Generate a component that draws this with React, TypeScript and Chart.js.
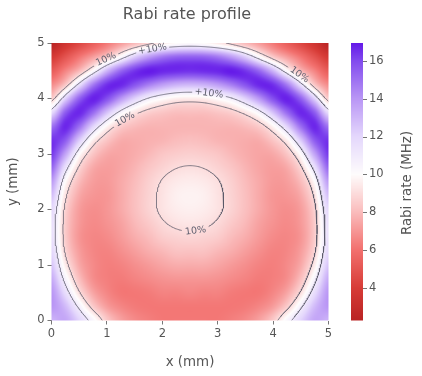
import React, { useEffect, useRef } from "react";
import { Chart, registerables } from "chart.js";

Chart.register(...registerables);

// ---------------- data ----------------
const gridStepMm = 0.25; // grid spacing, x and y both run 0 -> 5 mm
const xTickValues = [0, 1, 2, 3, 4, 5];
const yTickValues = [0, 1, 2, 3, 4, 5];
const colorbarTickValues = [4, 6, 8, 10, 12, 14, 16];
const rateRangeMHz = [2.26, 16.95];
const contourLevelsMHz = [9, 11]; // -10% / +10% of 10 MHz

// Rabi rate (MHz); each row is one y (mm), columns are x = 0.00 ... 5.00 mm
const rateY000 = [13.1, 13.5, 12.1, 10.4, 8.4, 7.3, 6.7, 6.4, 6.2, 6.2, 6.2, 6.2, 6.2, 6.4, 6.7, 7.3, 8.4, 10.4, 12.1, 13.5, 13.1];
const rateY025 = [14.0, 12.9, 10.7, 8.5, 7.2, 6.6, 6.3, 6.2, 6.2, 6.2, 6.2, 6.2, 6.2, 6.2, 6.3, 6.6, 7.2, 8.5, 10.7, 12.9, 14.0];
const rateY050 = [14.0, 11.7, 9.1, 7.4, 6.6, 6.2, 6.2, 6.3, 6.5, 6.5, 6.6, 6.5, 6.5, 6.3, 6.2, 6.2, 6.6, 7.4, 9.1, 11.7, 14.0];
const rateY075 = [13.4, 10.5, 8.1, 6.8, 6.4, 6.3, 6.5, 6.7, 6.9, 7.0, 7.0, 7.0, 6.9, 6.7, 6.5, 6.3, 6.4, 6.8, 8.1, 10.5, 13.4];
const rateY100 = [12.6, 9.5, 7.5, 6.7, 6.4, 6.5, 6.8, 7.1, 7.4, 7.6, 7.6, 7.6, 7.4, 7.1, 6.8, 6.5, 6.4, 6.7, 7.5, 9.5, 12.6];
const rateY125 = [12.0, 8.8, 7.2, 6.6, 6.5, 6.8, 7.2, 7.6, 7.9, 8.2, 8.2, 8.2, 7.9, 7.6, 7.2, 6.8, 6.5, 6.6, 7.2, 8.8, 12.0];
const rateY150 = [11.6, 8.5, 7.0, 6.6, 6.7, 7.1, 7.6, 8.0, 8.5, 8.7, 8.8, 8.7, 8.5, 8.0, 7.6, 7.1, 6.7, 6.6, 7.0, 8.5, 11.6];
const rateY175 = [11.6, 8.5, 7.1, 6.7, 6.9, 7.3, 7.9, 8.4, 8.9, 9.2, 9.3, 9.2, 8.9, 8.4, 7.9, 7.3, 6.9, 6.7, 7.1, 8.5, 11.6];
const rateY200 = [12.0, 8.7, 7.2, 6.8, 7.0, 7.5, 8.1, 8.7, 9.2, 9.5, 9.6, 9.5, 9.2, 8.7, 8.1, 7.5, 7.0, 6.8, 7.2, 8.7, 12.0];
const rateY225 = [12.8, 9.2, 7.5, 7.0, 7.0, 7.5, 8.1, 8.7, 9.2, 9.6, 9.7, 9.6, 9.2, 8.7, 8.1, 7.5, 7.0, 7.0, 7.5, 9.2, 12.8];
const rateY250 = [13.9, 10.0, 8.0, 7.2, 7.1, 7.5, 8.0, 8.6, 9.1, 9.4, 9.5, 9.4, 9.1, 8.6, 8.0, 7.5, 7.1, 7.2, 8.0, 10.0, 13.9];
const rateY275 = [15.3, 11.5, 8.8, 7.5, 7.2, 7.4, 7.8, 8.3, 8.7, 9.0, 9.1, 9.0, 8.7, 8.3, 7.8, 7.4, 7.2, 7.5, 8.8, 11.5, 15.3];
const rateY300 = [16.4, 13.6, 10.1, 8.3, 7.5, 7.4, 7.6, 7.9, 8.3, 8.5, 8.6, 8.5, 8.3, 7.9, 7.6, 7.4, 7.5, 8.3, 10.1, 13.6, 16.4];
const rateY325 = [16.5, 15.6, 12.4, 9.6, 8.3, 7.6, 7.6, 7.7, 7.8, 8.0, 8.1, 8.0, 7.8, 7.7, 7.6, 7.6, 8.3, 9.6, 12.4, 15.6, 16.5];
const rateY350 = [14.9, 16.7, 15.1, 12.1, 9.8, 8.5, 8.0, 7.8, 7.8, 7.8, 7.8, 7.8, 7.8, 7.8, 8.0, 8.5, 9.8, 12.1, 15.1, 16.7, 14.9];
const rateY375 = [11.7, 15.5, 16.7, 15.2, 12.7, 10.5, 9.3, 8.6, 8.3, 8.1, 8.1, 8.1, 8.3, 8.6, 9.3, 10.5, 12.7, 15.2, 16.7, 15.5, 11.7];
const rateY400 = [8.4, 12.1, 15.4, 16.8, 15.9, 14.0, 12.2, 10.8, 10.1, 9.6, 9.5, 9.6, 10.1, 10.8, 12.2, 14.0, 15.9, 16.8, 15.4, 12.1, 8.4];
const rateY425 = [6.7, 8.3, 11.5, 14.7, 16.5, 16.7, 15.8, 14.7, 13.8, 13.2, 13.0, 13.2, 13.8, 14.7, 15.8, 16.7, 16.5, 14.7, 11.5, 8.3, 6.7];
const rateY450 = [5.2, 6.5, 7.9, 10.1, 13.0, 15.2, 16.4, 16.9, 16.7, 16.6, 16.5, 16.6, 16.7, 16.9, 16.4, 15.2, 13.0, 10.1, 7.9, 6.5, 5.2];
const rateY475 = [3.8, 4.9, 6.1, 7.2, 8.4, 10.2, 12.3, 13.8, 14.8, 15.3, 15.4, 15.3, 14.8, 13.8, 12.3, 10.2, 8.4, 7.2, 6.1, 4.9, 3.8];
const rateY500 = [2.3, 3.5, 4.4, 5.3, 6.2, 7.1, 7.9, 8.7, 9.4, 9.9, 10.1, 9.9, 9.4, 8.7, 7.9, 7.1, 6.2, 5.3, 4.4, 3.5, 2.3];

const rateRows = [
  rateY000, rateY025, rateY050, rateY075, rateY100, rateY125, rateY150,
  rateY175, rateY200, rateY225, rateY250, rateY275, rateY300, rateY325,
  rateY350, rateY375, rateY400, rateY425, rateY450, rateY475, rateY500,
];

// contour labels (level, approximate position in mm, text)
const labelLevels = [11, 9, 9, 11, 9, 9];
const labelXmm = [1.82, 1.0, 4.45, 2.85, 1.3, 2.62];
const labelYmm = [4.91, 4.69, 4.4, 4.1, 3.68, 1.5];
const labelTexts = ["+10%", "10%", "10%", "+10%", "10%", "10%"];

// colour map stops (value -> colour)
const cmapStops = [2.26, 4, 6, 8, 10, 12, 14, 16, 16.95];
const cmapColors = ["#b92323", "#d73c37", "#f2706e", "#fabcbc", "#fefcfc", "#e4d7fc", "#b996f5", "#824bee", "#6419e8"];

// ---------------- helpers ----------------
const FONT = "'DejaVu Sans', 'Liberation Sans', sans-serif";
const TEXT_COLOR = "#555555";

function hexToRgb(h: string) {
  return [parseInt(h.slice(1, 3), 16), parseInt(h.slice(3, 5), 16), parseInt(h.slice(5, 7), 16)];
}
const cmapRgb = cmapColors.map(hexToRgb);

function colorFor(v: number): number[] {
  if (v <= cmapStops[0]) return cmapRgb[0];
  const n = cmapStops.length;
  if (v >= cmapStops[n - 1]) return cmapRgb[n - 1];
  for (let i = 0; i < n - 1; i++) {
    if (v <= cmapStops[i + 1]) {
      const t = (v - cmapStops[i]) / (cmapStops[i + 1] - cmapStops[i]);
      const a = cmapRgb[i], b = cmapRgb[i + 1];
      return [a[0] + (b[0] - a[0]) * t, a[1] + (b[1] - a[1]) * t, a[2] + (b[2] - a[2]) * t];
    }
  }
  return cmapRgb[n - 1];
}

function cubic(p0: number, p1: number, p2: number, p3: number, t: number) {
  return p1 + 0.5 * t * (p2 - p0 + t * (2 * p0 - 5 * p1 + 4 * p2 - p3 + t * (3 * (p1 - p2) + p3 - p0)));
}

function sampleRate(x: number, y: number) {
  const nx = rateRows[0].length, ny = rateRows.length;
  const gx = Math.min(Math.max(x / gridStepMm, 0), nx - 1);
  const gy = Math.min(Math.max(y / gridStepMm, 0), ny - 1);
  const ix = Math.min(Math.floor(gx), nx - 2);
  const iy = Math.min(Math.floor(gy), ny - 2);
  const tx = gx - ix, ty = gy - iy;
  const ci = (i: number) => Math.min(Math.max(i, 0), nx - 1);
  const cj = (j: number) => Math.min(Math.max(j, 0), ny - 1);
  const r: number[] = [];
  for (let k = -1; k <= 2; k++) {
    const row = rateRows[cj(iy + k)];
    r.push(cubic(row[ci(ix - 1)], row[ci(ix)], row[ci(ix + 1)], row[ci(ix + 2)], tx));
  }
  return cubic(r[0], r[1], r[2], r[3], ty);
}

type P = { x: number; y: number };

function smoothLine(line: P[], closed: boolean, half: number, passes: number): P[] {
  let pts = closed ? line.slice(0, line.length - 1) : line.slice();
  const n = pts.length;
  if (n < 5) return line;
  for (let pass = 0; pass < passes; pass++) {
    const out: P[] = [];
    for (let i = 0; i < n; i++) {
      if (!closed && (i === 0 || i === n - 1)) {
        out.push(pts[i]);
        continue;
      }
      let sx = 0, sy = 0, c = 0;
      for (let k = -half; k <= half; k++) {
        let j = i + k;
        if (closed) j = ((j % n) + n) % n;
        else if (j < 0 || j >= n) continue;
        sx += pts[j].x;
        sy += pts[j].y;
        c++;
      }
      out.push({ x: sx / c, y: sy / c });
    }
    pts = out;
  }
  if (closed) pts.push(pts[0]);
  return pts;
}

function contourLines(level: number, step: number): P[][] {
  const n = Math.round(5 / step) + 1;
  const vals = new Float64Array(n * n);
  for (let j = 0; j < n; j++) for (let i = 0; i < n; i++) vals[j * n + i] = sampleRate(i * step, j * step);
  const pts = new Map<string, P>();
  const adj = new Map<string, string[]>();
  const edgePoint = (key: string, i1: number, j1: number, i2: number, j2: number) => {
    if (!pts.has(key)) {
      const a = vals[j1 * n + i1], b = vals[j2 * n + i2];
      const t = (level - a) / (b - a);
      pts.set(key, { x: (i1 + (i2 - i1) * t) * step, y: (j1 + (j2 - j1) * t) * step });
    }
    return key;
  };
  const link = (a: string, b: string) => {
    if (!adj.has(a)) adj.set(a, []);
    if (!adj.has(b)) adj.set(b, []);
    adj.get(a)!.push(b);
    adj.get(b)!.push(a);
  };
  for (let j = 0; j < n - 1; j++) {
    for (let i = 0; i < n - 1; i++) {
      const a = vals[j * n + i] >= level;
      const b = vals[j * n + i + 1] >= level;
      const c = vals[(j + 1) * n + i + 1] >= level;
      const d = vals[(j + 1) * n + i] >= level;
      const E: (string | null)[] = [
        a !== b ? edgePoint(`h${i},${j}`, i, j, i + 1, j) : null,
        b !== c ? edgePoint(`v${i + 1},${j}`, i + 1, j, i + 1, j + 1) : null,
        c !== d ? edgePoint(`h${i},${j + 1}`, i + 1, j + 1, i, j + 1) : null,
        d !== a ? edgePoint(`v${i},${j}`, i, j + 1, i, j) : null,
      ];
      const present = E.filter((e) => e !== null) as string[];
      if (present.length === 2) link(present[0], present[1]);
      else if (present.length === 4) {
        const center =
          (vals[j * n + i] + vals[j * n + i + 1] + vals[(j + 1) * n + i + 1] + vals[(j + 1) * n + i]) / 4 >= level;
        if (center === a) {
          link(E[0]!, E[1]!);
          link(E[2]!, E[3]!);
        } else {
          link(E[3]!, E[0]!);
          link(E[1]!, E[2]!);
        }
      }
    }
  }
  const visited = new Set<string>();
  const walk = (start: string) => {
    const line = [start];
    visited.add(start);
    let cur = start;
    for (;;) {
      const nb = (adj.get(cur) || []).find((k) => !visited.has(k));
      if (!nb) break;
      visited.add(nb);
      line.push(nb);
      cur = nb;
    }
    return line;
  };
  const lines: { keys: string[]; closed: boolean }[] = [];
  adj.forEach((nbs, k) => {
    if (nbs.length === 1 && !visited.has(k)) lines.push({ keys: walk(k), closed: false });
  });
  adj.forEach((_nbs, k) => {
    if (!visited.has(k)) {
      const l = walk(k);
      l.push(k);
      lines.push({ keys: l, closed: true });
    }
  });
  return lines.map((l) => smoothLine(l.keys.map((k) => pts.get(k)!), l.closed, 7, 3));
}

type Label = { x: number; y: number; dx: number; dy: number; text: string; level: number; r: number };

function buildContours() {
  const levelLines = contourLevelsMHz.map((lv) => contourLines(lv, 0.02));
  const labels: Label[] = [];
  labelLevels.forEach((lv, li) => {
    const lines = levelLines[contourLevelsMHz.indexOf(lv)];
    let best = { d: Infinity, line: -1, idx: -1 };
    lines.forEach((line, k) =>
      line.forEach((p, idx) => {
        const d = (p.x - labelXmm[li]) ** 2 + (p.y - labelYmm[li]) ** 2;
        if (d < best.d) best = { d, line: k, idx };
      })
    );
    const line = lines[best.line];
    const p = line[best.idx];
    const p1 = line[Math.max(0, best.idx - 5)];
    const p2 = line[Math.min(line.length - 1, best.idx + 5)];
    const text = labelTexts[li];
    labels.push({ x: p.x, y: p.y, dx: p2.x - p1.x, dy: p2.y - p1.y, text, level: lv, r: text.length > 3 ? 0.3 : 0.24 });
  });
  const datasets = contourLevelsMHz.map((lv, k) => {
    const data: P[] = [];
    const myLabels = labels.filter((l) => l.level === lv);
    levelLines[k].forEach((line) => {
      line.forEach((p) => {
        const hidden = myLabels.some((l) => (p.x - l.x) ** 2 + (p.y - l.y) ** 2 < l.r * l.r);
        data.push(hidden ? { x: NaN, y: NaN } : p);
      });
      data.push({ x: NaN, y: NaN });
    });
    return data;
  });
  return { datasets, labels };
}

// ---------------- component ----------------
export default function App() {
  const canvasRef = useRef<HTMLCanvasElement | null>(null);

  useEffect(() => {
    const canvas = canvasRef.current;
    if (!canvas) return;
    const { datasets, labels } = buildContours();

    const fieldPlugin = {
      id: "rabiField",
      beforeDatasetsDraw(chart: any) {
        const { ctx, chartArea } = chart;
        const xs = chart.scales.x, ys = chart.scales.y;
        const x0 = Math.floor(chartArea.left), y0 = Math.floor(chartArea.top);
        const x1 = Math.ceil(chartArea.right), y1 = Math.ceil(chartArea.bottom);
        const w = x1 - x0, h = y1 - y0;
        const off = document.createElement("canvas");
        off.width = w;
        off.height = h;
        const octx = off.getContext("2d")!;
        const img = octx.createImageData(w, h);
        for (let py = 0; py < h; py++) {
          const vy = ys.getValueForPixel(y0 + py + 0.5);
          for (let px = 0; px < w; px++) {
            const vx = xs.getValueForPixel(x0 + px + 0.5);
            const c = colorFor(sampleRate(vx, vy));
            const o = (py * w + px) * 4;
            img.data[o] = c[0];
            img.data[o + 1] = c[1];
            img.data[o + 2] = c[2];
            img.data[o + 3] = 255;
          }
        }
        octx.putImageData(img, 0, 0);
        ctx.save();
        ctx.beginPath();
        ctx.rect(chartArea.left, chartArea.top, chartArea.right - chartArea.left, chartArea.bottom - chartArea.top);
        ctx.clip();
        ctx.drawImage(off, x0, y0);
        ctx.restore();
      },
      afterDatasetsDraw(chart: any) {
        const { ctx } = chart;
        const xs = chart.scales.x, ys = chart.scales.y;
        ctx.save();
        ctx.font = `9.5px ${FONT}`;
        ctx.fillStyle = "#606070";
        ctx.textAlign = "center";
        ctx.textBaseline = "middle";
        labels.forEach((l) => {
          const px = xs.getPixelForValue(l.x), py = ys.getPixelForValue(l.y);
          const ddx = xs.getPixelForValue(l.x + l.dx) - px;
          const ddy = ys.getPixelForValue(l.y + l.dy) - py;
          let ang = Math.atan2(ddy, ddx);
          if (ang > Math.PI / 2) ang -= Math.PI;
          if (ang < -Math.PI / 2) ang += Math.PI;
          ctx.save();
          ctx.translate(px, py);
          ctx.rotate(ang);
          ctx.fillText(l.text, 0, 0);
          ctx.restore();
        });
        ctx.restore();
      },
      afterDraw(chart: any) {
        const { ctx } = chart;
        const cb = chart.scales.cb;
        ctx.save();
        for (let py = Math.floor(cb.top); py < Math.ceil(cb.bottom); py++) {
          const c = colorFor(cb.getValueForPixel(py + 0.5));
          ctx.fillStyle = `rgb(${Math.round(c[0])},${Math.round(c[1])},${Math.round(c[2])})`;
          const top = Math.max(py, cb.top);
          const bot = Math.min(py + 1, cb.bottom);
          ctx.fillRect(351, top, 12, bot - top);
        }
        ctx.strokeStyle = "#777";
        ctx.lineWidth = 1;
        cb.ticks.forEach((t: any) => {
          const yy = Math.round(cb.getPixelForValue(t.value)) + 0.5;
          ctx.beginPath();
          ctx.moveTo(363, yy);
          ctx.lineTo(367, yy);
          ctx.stroke();
        });
        ctx.fillStyle = TEXT_COLOR;
        ctx.textAlign = "center";
        ctx.textBaseline = "middle";
        ctx.font = `13.4px ${FONT}`;
        ctx.translate(408, 183);
        ctx.rotate(-Math.PI / 2);
        ctx.fillText("Rabi rate (MHz)", 0, 0);
        ctx.restore();
        ctx.save();
        ctx.fillStyle = TEXT_COLOR;
        ctx.font = `16px ${FONT}`;
        ctx.textAlign = "center";
        ctx.textBaseline = "alphabetic";
        ctx.fillText("Rabi rate profile", 187, 19);
        ctx.restore();
      },
    };

    const tickFont = { family: FONT, size: 11.5 };
    const chart = new Chart(canvas, {
      type: "scatter",
      data: {
        datasets: datasets.map((d) => ({
          data: d,
          showLine: true,
          spanGaps: false,
          pointRadius: 0,
          borderColor: "rgba(85,85,100,0.8)",
          borderWidth: 0.9,
        })),
      },
      options: {
        animation: false,
        responsive: false,
        devicePixelRatio: 1,
        events: [],
        layout: { padding: { top: 43, left: 0, right: 0, bottom: 0 } },
        plugins: { legend: { display: false }, tooltip: { enabled: false }, title: { display: false } },
        scales: {
          x: {
            type: "linear",
            position: "bottom",
            min: 0,
            max: 5,
            afterBuildTicks: (s: any) => {
              s.ticks = xTickValues.map((v) => ({ value: v }));
            },
            ticks: { color: TEXT_COLOR, font: tickFont, padding: 3, maxRotation: 0, autoSkip: false },
            grid: { drawOnChartArea: false, drawTicks: true, tickLength: 4, color: "#777" },
            border: { display: false },
            title: { display: true, text: "x (mm)", color: TEXT_COLOR, font: { family: FONT, size: 13.4 }, padding: { top: 5.6, bottom: 5.6 } },
            afterFit: (s: any) => {
              s.height = 55.5;
              s.paddingLeft = 0;
              s.paddingRight = 0;
            },
          },
          y: {
            type: "linear",
            position: "left",
            min: 0,
            max: 5,
            afterBuildTicks: (s: any) => {
              s.ticks = yTickValues.map((v) => ({ value: v }));
            },
            ticks: { color: TEXT_COLOR, font: tickFont, padding: 3, autoSkip: false },
            grid: { drawOnChartArea: false, drawTicks: true, tickLength: 4, color: "#777" },
            border: { display: false },
            title: { display: true, text: "y (mm)", color: TEXT_COLOR, font: { family: FONT, size: 13.4 }, padding: { top: 5.6, bottom: 5.6 } },
            afterFit: (s: any) => {
              s.width = 51.5;
              s.paddingTop = 0;
              s.paddingBottom = 0;
            },
          },
          cb: {
            type: "linear",
            position: "right",
            min: rateRangeMHz[0],
            max: rateRangeMHz[1],
            afterBuildTicks: (s: any) => {
              s.ticks = colorbarTickValues.map((v) => ({ value: v }));
            },
            ticks: { color: TEXT_COLOR, font: tickFont, padding: 40.5, autoSkip: false },
            grid: { display: false, drawTicks: false, drawOnChartArea: false },
            border: { display: false },
            afterFit: (s: any) => {
              s.width = 93.5;
              s.paddingTop = 0;
              s.paddingBottom = 0;
            },
          },
        },
      },
      plugins: [fieldPlugin],
    } as any);
    return () => chart.destroy();
  }, []);

  return (
    <div style={{ position: "fixed", left: 0, top: 0, width: 422, height: 376, background: "#fff" }}>
      <canvas ref={canvasRef} width={422} height={376} style={{ width: 422, height: 376, display: "block" }} />
    </div>
  );
}
